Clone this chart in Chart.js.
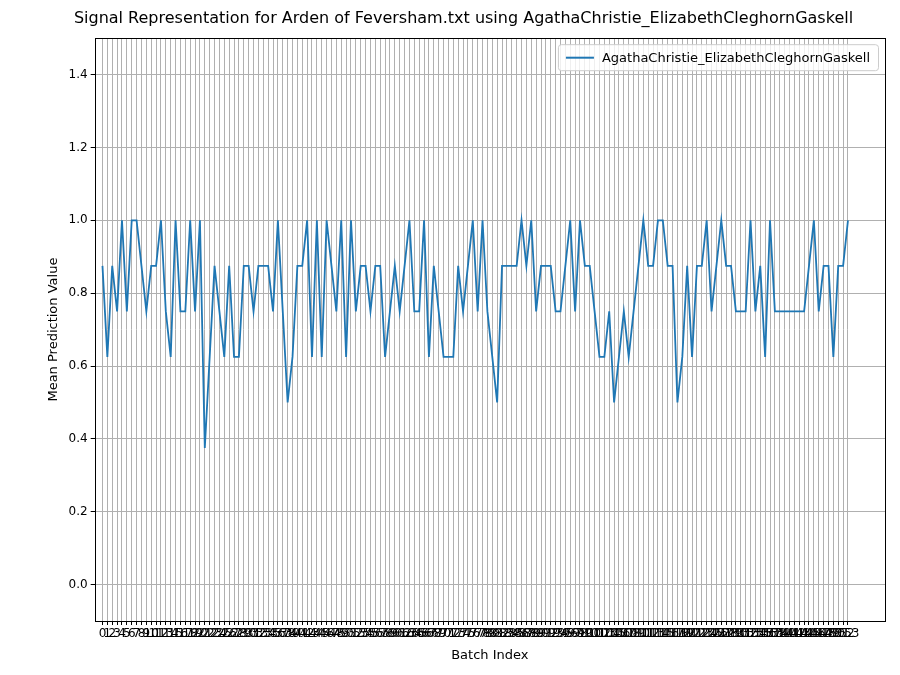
<!DOCTYPE html>
<html>
<head>
<meta charset="utf-8">
<script src="https://cdn.jsdelivr.net/npm/chart.js@4"></script>
<style>
  body { margin: 0; background: #fff; }
  #wrap { width: 900px; height: 675px; }
</style>
</head>
<body>
<div id="wrap"><canvas id="c" width="900" height="675"></canvas></div>
<script>
const seriesName = 'AgathaChristie_ElizabethCleghornGaskell';
const values = [
  0.875, 0.625, 0.875, 0.75, 1.0, 0.75, 1.0, 1.0, 0.875, 0.75,
  0.875, 0.875, 1.0, 0.75, 0.625, 1.0, 0.75, 0.75, 1.0, 0.75,
  1.0, 0.375, 0.625, 0.875, 0.75, 0.625, 0.875, 0.625, 0.625, 0.875,
  0.875, 0.75, 0.875, 0.875, 0.875, 0.75, 1.0, 0.75, 0.5, 0.625,
  0.875, 0.875, 1.0, 0.625, 1.0, 0.625, 1.0, 0.875, 0.75, 1.0,
  0.625, 1.0, 0.75, 0.875, 0.875, 0.75, 0.875, 0.875, 0.625, 0.75,
  0.875, 0.75, 0.875, 1.0, 0.75, 0.75, 1.0, 0.625, 0.875, 0.75,
  0.625, 0.625, 0.625, 0.875, 0.75, 0.875, 1.0, 0.75, 1.0, 0.75,
  0.625, 0.5, 0.875, 0.875, 0.875, 0.875, 1.0, 0.875, 1.0, 0.75,
  0.875, 0.875, 0.875, 0.75, 0.75, 0.875, 1.0, 0.75, 1.0, 0.875,
  0.875, 0.75, 0.625, 0.625, 0.75, 0.5, 0.625, 0.75, 0.625, 0.75,
  0.875, 1.0, 0.875, 0.875, 1.0, 1.0, 0.875, 0.875, 0.5, 0.625,
  0.875, 0.625, 0.875, 0.875, 1.0, 0.75, 0.875, 1.0, 0.875, 0.875,
  0.75, 0.75, 0.75, 1.0, 0.75, 0.875, 0.625, 1.0, 0.75, 0.75,
  0.75, 0.75, 0.75, 0.75, 0.75, 0.875, 1.0, 0.75, 0.875, 0.875,
  0.625, 0.875, 0.875, 1.0
];
const batchIndex = values.map((v, i) => i);
const yTicks = [0.0, 0.2, 0.4, 0.6, 0.8, 1.0, 1.2, 1.4];

// legend box and axes frame, drawn like matplotlib's
const legendBox = {
  id: 'legendBox',
  afterDraw(chart) {
    const ctx = chart.ctx, a = chart.chartArea;
    ctx.save();
    ctx.strokeStyle = '#000';
    ctx.lineWidth = 1;
    ctx.strokeRect(Math.round(a.left) + 0.5, Math.round(a.top) + 0.5,
      Math.round(a.right - a.left), Math.round(a.bottom - a.top));
    ctx.font = '13px "DejaVu Sans"';
    const tw = ctx.measureText(seriesName).width;
    const w = tw + 52, h = 26;
    const x = a.right - w - 7, y = a.top + 6;
    ctx.fillStyle = 'rgba(255,255,255,0.8)';
    ctx.strokeStyle = '#ccc';
    ctx.beginPath();
    ctx.roundRect(x + 0.5, y + 0.5, w, h, 3);
    ctx.fill(); ctx.stroke();
    ctx.strokeStyle = '#1f77b4';
    ctx.lineWidth = 2;
    ctx.beginPath();
    ctx.moveTo(x + 8, y + h / 2 + 0.5);
    ctx.lineTo(x + 36, y + h / 2 + 0.5);
    ctx.stroke();
    ctx.fillStyle = '#000';
    ctx.textBaseline = 'middle';
    ctx.fillText(seriesName, x + 44, y + h / 2 + 1);
    ctx.restore();
  }
};

new Chart(document.getElementById('c'), {
  type: 'line',
  data: {
    datasets: [{
      label: seriesName,
      data: batchIndex.map((x, i) => ({ x: x, y: values[i] })),
      borderColor: '#1f77b4',
      borderWidth: 1.8,
      pointRadius: 0,
      tension: 0
    }]
  },
  options: {
    responsive: false,
    animation: false,
    layout: { padding: { left: 42, right: 15, top: 3, bottom: 8 } },
    plugins: {
      legend: { display: false },
      tooltip: { enabled: false },
      title: {
        display: true,
        text: 'Signal Representation for Arden of Feversham.txt using AgathaChristie_ElizabethCleghornGaskell',
        color: '#000',
        font: { family: 'DejaVu Sans', size: 16, weight: 'normal' },
        padding: { top: 6, bottom: 10 }
      }
    },
    scales: {
      x: {
        type: 'linear',
        min: -1.6, max: 160.6,
        afterBuildTicks(axis) { axis.ticks = batchIndex.map(v => ({ value: v })); },
        grid: { color: '#b0b0b0', lineWidth: 1, tickLength: 4, tickColor: '#000' },
        border: { display: false },
        ticks: {
          autoSkip: false, maxRotation: 0, minRotation: 0, color: '#000',
          font: { family: 'DejaVu Sans', size: 12 }, padding: 2,
          callback: v => String(v)
        },
        title: { display: true, text: 'Batch Index', color: '#000', font: { family: 'DejaVu Sans', size: 13 } }
      },
      y: {
        min: -0.1, max: 1.5,
        afterBuildTicks(axis) { axis.ticks = yTicks.map(v => ({ value: v })); },
        grid: { color: '#b0b0b0', lineWidth: 1, tickLength: 4, tickColor: '#000' },
        border: { display: false },
        ticks: {
          color: '#000', font: { family: 'DejaVu Sans', size: 12 },
          callback: v => Number(v).toFixed(1)
        },
        title: { display: true, text: 'Mean Prediction Value', color: '#000', font: { family: 'DejaVu Sans', size: 13 } }
      }
    }
  },
  plugins: [legendBox]
});
</script>
</body>
</html>
